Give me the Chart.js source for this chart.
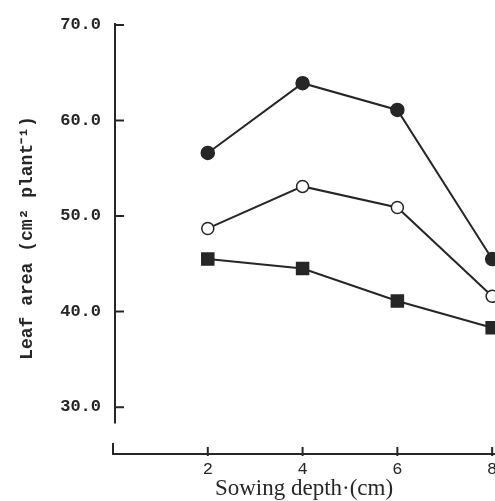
<!DOCTYPE html>
<html lang="en">
<head>
<meta charset="UTF-8">
<title>Leaf area vs sowing depth</title>
<style>
  html, body { margin: 0; padding: 0; background: #fff; }
  canvas { display: block; }
</style>
</head>
<body>
<canvas id="leafChart" width="495" height="501"></canvas>
<script src="https://cdn.jsdelivr.net/npm/chart.js"></script>
<script>
// values
const depths = [2, 4, 6, 8];
const filledCircle = [56.6, 63.9, 61.1, 45.5];
const openCircle = [48.7, 53.1, 50.9, 41.6];
const filledSquare = [45.5, 44.5, 41.1, 38.3];
const xTicks = [2, 4, 6, 8];
const yTicks = [30, 40, 50, 60, 70];
const yAxisEnd = 28.3; // broken y axis stops here

const ink = '#262626';
const toPoints = vals => depths.map((d, i) => ({ x: d, y: vals[i] }));

// hand-drawn style axes: inward ticks, y axis stops short of the x axis
const axisLines = {
  id: 'axisLines',
  beforeDatasetsDraw(chart) {
    const { ctx, chartArea, scales: { x, y } } = chart;
    const ax = chartArea.left + 2;
    const by = chartArea.bottom + 1;
    ctx.save();
    ctx.strokeStyle = ink;
    ctx.lineWidth = 2;
    ctx.beginPath();
    ctx.moveTo(ax, y.getPixelForValue(y.max));
    ctx.lineTo(ax, y.getPixelForValue(yAxisEnd));
    yTicks.forEach(v => {
      const py = y.getPixelForValue(v);
      ctx.moveTo(ax, py);
      ctx.lineTo(ax + 9, py);
    });
    ctx.moveTo(chartArea.left, by - 11);
    ctx.lineTo(chartArea.left, by);
    ctx.lineTo(chart.width, by);
    xTicks.forEach(v => {
      const px = x.getPixelForValue(v);
      ctx.moveTo(px, by - 7);
      ctx.lineTo(px, by + 2);
    });
    ctx.stroke();
    ctx.restore();
  }
};

const common = {
  borderColor: ink,
  borderWidth: 2,
  tension: 0,
  clip: false,
  pointBorderColor: ink,
  pointBorderWidth: 1.5
};

const noPad = s => { s.paddingLeft = 0; s.paddingRight = 0; s.paddingTop = 0; s.paddingBottom = 0; };

new Chart(document.getElementById('leafChart'), {
  type: 'line',
  data: {
    datasets: [
      { ...common, label: 'filled circle', data: toPoints(filledCircle),
        pointStyle: 'circle', pointRadius: 6.5, pointBackgroundColor: ink },
      { ...common, label: 'open circle', data: toPoints(openCircle),
        pointStyle: 'circle', pointRadius: 6, pointBackgroundColor: '#fff' },
      { ...common, label: 'filled square', data: toPoints(filledSquare),
        pointStyle: 'rect', pointRadius: 8.5, pointBackgroundColor: ink }
    ]
  },
  options: {
    responsive: false,
    animation: false,
    layout: { autoPadding: false, padding: { top: 23, left: 0, right: 0, bottom: 0 } },
    plugins: { legend: { display: false }, tooltip: { enabled: false } },
    scales: {
      x: {
        type: 'linear',
        min: 0,
        max: 8.06,
        afterBuildTicks: s => { s.ticks = xTicks.map(v => ({ value: v })); },
        afterFit: s => { s.height = 48; noPad(s); },
        grid: { display: false, drawTicks: false },
        border: { display: false },
        ticks: {
          padding: 6,
          maxRotation: 0,
          color: ink,
          font: { family: 'Liberation Mono', size: 17 }
        },
        title: {
          display: true,
          text: 'Sowing depth·(cm)',
          color: ink,
          padding: { top: 0, bottom: 1 },
          font: { family: 'Liberation Serif', size: 23, lineHeight: 1 }
        }
      },
      y: {
        min: 25.2,
        max: 70.2,
        afterBuildTicks: s => { s.ticks = yTicks.map(v => ({ value: v })); },
        afterFit: s => { s.width = 113; noPad(s); },
        grid: { display: false, drawTicks: false },
        border: { display: false },
        ticks: {
          padding: 12,
          color: ink,
          font: { family: 'Liberation Mono', size: 17, weight: 'bold' },
          callback: v => v.toFixed(1)
        },
        title: {
          display: true,
          text: 'Leaf area (cm² plant⁻¹)',
          color: ink,
          padding: { top: 17, bottom: 0 },
          font: { family: 'Liberation Mono', size: 18, weight: 'bold' }
        }
      }
    }
  },
  plugins: [axisLines]
});
</script>
</body>
</html>
